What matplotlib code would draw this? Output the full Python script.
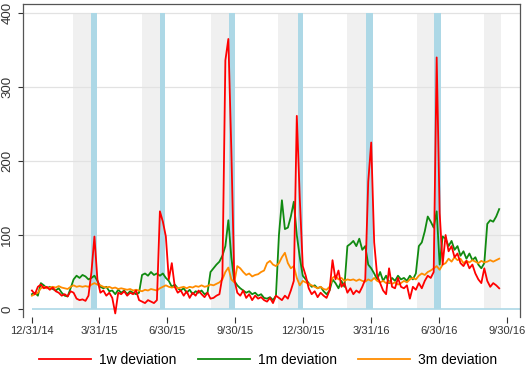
import pandas as pd
import matplotlib
matplotlib.use('Agg')
import matplotlib.pyplot as plt

plt.rcParams['font.family'] = ['Liberation Sans', 'DejaVu Sans']

# observations every 4 days from 12/31/14
dates = pd.date_range('2014-12-31', periods=158, freq='4D')

dev_1w = [25, 20, 30, 33, 28, 30, 26, 29, 24, 22, 18, 20, 17, 24, 22, 14, 12, 13, 11, 18,
          50, 98, 40, 22, 25, 18, 22, 15, -6, 22, 20, 24, 18, 22, 20, 25, 12, 10, 8, 12,
          10, 8, 12, 132, 118, 98, 40, 62, 30, 22, 25, 18, 24, 15, 22, 18, 25, 20, 16, 22,
          14, 15, 18, 20, 44, 336, 365, 215, 40, 22, 18, 25, 15, 20, 12, 18, 14, 16, 12, 10,
          15, 8, 18, 15, 12, 18, 14, 25, 38, 261, 150, 58, 45, 28, 20, 24, 16, 22, 18, 15,
          25, 66, 40, 52, 30, 35, 22, 28, 20, 25, 22, 30, 40, 172, 225, 90, 45, 35, 25, 20,
          55, 30, 28, 42, 30, 28, 32, 14, 30, 26, 35, 28, 38, 45, 42, 50, 340, 130, 60, 100,
          78, 85, 70, 75, 62, 58, 65, 55, 60, 48, 40, 35, 55, 38, 30, 35, 32, 28]

dev_1m = [20, 22, 18, 35, 32, 28, 30, 27, 25, 28, 22, 18, 17, 28, 40, 45, 42, 46, 44, 40,
          42, 45, 38, 30, 28, 30, 24, 25, 20, 26, 22, 25, 20, 24, 22, 20, 22, 46, 48, 45,
          50, 46, 48, 45, 48, 42, 38, 30, 33, 28, 25, 28, 22, 26, 20, 24, 22, 25, 20, 22,
          50, 55, 60, 64, 72, 85, 120, 70, 38, 32, 28, 25, 22, 24, 20, 22, 18, 20, 15, 14,
          16, 12, 18, 100, 147, 108, 110, 125, 145, 100, 70, 45, 40, 35, 30, 32, 28, 30, 24, 20,
          25, 40, 35, 28, 38, 30, 85, 88, 92, 85, 95, 80, 85, 60, 55, 48, 40, 50, 38, 45,
          35, 42, 38, 45, 40, 42, 38, 45, 40, 48, 85, 90, 105, 125, 118, 110, 132, 60, 98, 95,
          85, 92, 80, 85, 72, 78, 68, 75, 66, 70, 60, 55, 62, 115, 120, 118, 125, 135]

dev_3m = [18, 20, 22, 28, 30, 28, 29, 30, 29, 31, 29, 28, 27, 30, 32, 30, 31, 30, 31, 30,
          33, 35, 33, 32, 30, 29, 30, 28, 29, 27, 28, 27, 26, 27, 25, 26, 25, 24, 26, 25,
          27, 26, 25, 28, 30, 32, 30, 29, 30, 28, 29, 30, 28, 30, 29, 31, 30, 32, 30, 31,
          33, 32, 34, 36, 40, 50, 56, 40, 36, 58, 55, 50, 46, 48, 44, 46, 47, 50, 52, 62,
          65, 60, 58, 62, 70, 76, 62, 55, 58, 42, 32, 38, 36, 34, 32, 30, 28, 30, 27, 26,
          30, 42, 45, 40, 42, 38, 40, 39, 40, 38, 40, 38, 37, 40, 38, 42, 38, 36, 38, 35,
          37, 34, 36, 33, 35, 38, 36, 40, 42, 40, 45, 48, 46, 50, 52, 55, 58, 53, 60, 62,
          68, 64, 70, 66, 68, 62, 65, 63, 66, 64, 62, 65, 63, 64, 66, 64, 66, 68]

# shaded windows before each quarter end
gray_start = ['2015-02-24', '2015-05-28', '2015-08-29', '2015-11-27', '2016-02-28', '2016-05-31', '2016-08-30']
gray_end = ['2015-03-21', '2015-06-21', '2015-09-22', '2015-12-24', '2016-03-24', '2016-06-24', '2016-09-22']
blue_start = ['2015-03-21', '2015-06-21', '2015-09-22', '2015-12-24', '2016-03-24', '2016-06-24']
blue_end = ['2015-03-29', '2015-06-28', '2015-09-30', '2015-12-31', '2016-04-03', '2016-07-03']

tick_dates = ['2014-12-31', '2015-03-31', '2015-06-30', '2015-09-30',
              '2015-12-30', '2016-03-31', '2016-06-30', '2016-09-30']
tick_labels = ['12/31/14', '3/31/15', '6/30/15', '9/30/15',
               '12/30/15', '3/31/16', '6/30/16', '9/30/16']

x_left = pd.Timestamp('2014-12-19')
x_right = pd.Timestamp('2016-10-17')

fig = plt.figure(figsize=(5.25, 3.9), dpi=100)
ax = fig.add_axes([0.0438, 0.1872, 0.9467, 0.8025])

for s, e in zip(gray_start, gray_end):
    ax.fill_between(pd.to_datetime([s, e]), 0, 400, color='#f0f0f0', lw=0, zorder=0)
for s, e in zip(blue_start, blue_end):
    ax.fill_between(pd.to_datetime([s, e]), 0, 400, color='#add8e6', lw=0, zorder=0.5)

for yv in [100, 200, 300, 400]:
    ax.axhline(yv, color='#e2e2e2', lw=0.9, zorder=0.2)
ax.hlines(0, pd.Timestamp('2014-12-31'), x_right, color='#add8e6', lw=1.2, zorder=0.6)

ax.plot(dates, dev_1w, color='#ff0000', lw=1.3, label='1w deviation', zorder=3)
ax.plot(dates, dev_1m, color='#108a10', lw=1.3, label='1m deviation', zorder=2)
ax.plot(dates, dev_3m, color='#ff8c00', lw=1.3, label='3m deviation', zorder=2.5)

ax.set_xlim(x_left, x_right)
ax.set_ylim(-10.8, 412.2)
ax.set_xticks(pd.to_datetime(tick_dates))
ax.set_xticklabels(tick_labels)
ax.set_yticks([0, 100, 200, 300, 400])
ax.set_yticklabels(['0', '100', '200', '300', '400'], rotation=90, va='center')
ax.tick_params(axis='x', length=4.5, width=0.8, pad=2, labelsize=8, colors='#333333')
ax.tick_params(axis='y', length=3.5, width=0.8, pad=3.5, labelsize=9.5, colors='#333333')
for sp in ax.spines.values():
    sp.set_color('#555555')
    sp.set_linewidth(0.9)
ax.spines['bottom'].set_visible(False)

fig.legend(loc='center', bbox_to_anchor=(0.511, 0.077), ncol=3, frameon=False,
           fontsize=10, handlelength=3.75, handletextpad=0.6, columnspacing=1.5)

fig.savefig('out.png', dpi=100)
